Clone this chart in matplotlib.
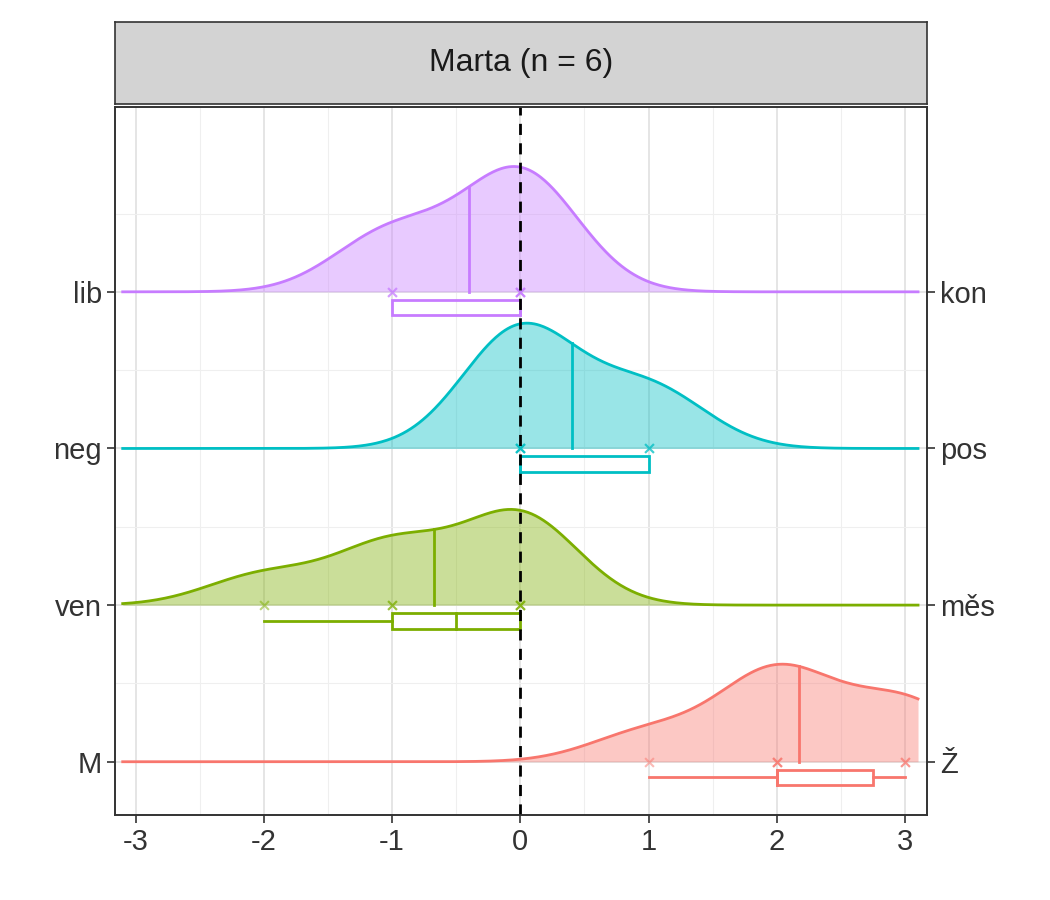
import matplotlib.pyplot as plt
import numpy as np

plt.rcParams['font.family'] = ['Liberation Sans', 'DejaVu Sans']

left_labels = ["M", "ven", "neg", "lib"]
right_labels = ["Ž", "měs", "pos", "kon"]
colors = ["#F8766D", "#7CAE00", "#00BFC4", "#C77CFF"]
values = [
    [1, 2, 2, 2, 3, 3],
    [-2, -1, -1, 0, 0, 0],
    [0, 0, 0, 0, 1, 1],
    [-1, -1, 0, 0, 0, 0],
]
# box stats: whisker low, q1, median, q3, whisker high
box_stats = [
    [1, 2, 2, 2.75, 3],
    [-2, -1, -0.5, 0, 0],
    [0, 0, 0, 1, 1],
    [-1, -1, 0, 0, 0],
]
means = [2.17, -0.67, 0.4, -0.4]

fig = plt.figure(figsize=(10.5, 9), dpi=100)
ax = fig.add_axes([115 / 1050, 85 / 900, 812 / 1050, 708 / 900])
xs = np.linspace(-3.1, 3.1, 600)
bw = 0.45

dens = []
for v in values:
    v = np.array(v, float)
    d = np.exp(-0.5 * ((xs[:, None] - v[None, :]) / bw) ** 2).sum(1)
    dens.append(d / (len(v) * bw * np.sqrt(2 * np.pi)))
scale = 0.8 / max(d.max() for d in dens)

for i, (d, c) in enumerate(zip(dens, colors)):
    y0 = i + 1
    h = y0 + d * scale
    ax.fill_between(xs, y0, h, color=c, alpha=0.4, lw=0, zorder=3)
    ax.plot(xs, h, color=c, lw=2, zorder=4)
    m = means[i]
    ax.plot([m, m], [y0, y0 + np.interp(m, xs, d) * scale], color=c, lw=2, zorder=4)
    ax.scatter(values[i], [y0] * len(values[i]), marker="x", color=c, alpha=0.5, s=40, zorder=5)
    wl, q1, med, q3, wh = box_stats[i]
    yc = y0 - 0.1
    ax.plot([wl, q1], [yc, yc], color=c, lw=2, zorder=4)
    ax.plot([q3, wh], [yc, yc], color=c, lw=2, zorder=4)
    ax.add_patch(plt.Rectangle((q1, y0 - 0.15), q3 - q1, 0.1, fill=False, ec=c, lw=2, zorder=4))
    ax.plot([med, med], [y0 - 0.15, y0 - 0.05], color=c, lw=2, zorder=4)

ax.axvline(0, color="black", ls=(0, (4, 3)), lw=2, zorder=6)
ax.set_xlim(-3.16, 3.17)
ax.set_ylim(0.66, 5.18)
ax.set_xticks(range(-3, 4))
ax.set_xticklabels([str(t) for t in range(-3, 4)])
ax.set_xticks(np.arange(-2.5, 3, 1), minor=True)
ax.set_yticks([1, 2, 3, 4])
ax.set_yticklabels(left_labels)
ax.set_yticks([1.5, 2.5, 3.5, 4.5], minor=True)
ax.grid(True, which="major", color="#e3e3e3", lw=1.3, zorder=0)
ax.grid(True, which="minor", color="#efefef", lw=0.8, zorder=0)
ax.tick_params(labelsize=21, colors="#333333", length=6, width=1.2)
ax.tick_params(which="minor", length=0)
ax2 = ax.twinx()
ax2.set_ylim(ax.get_ylim())
ax2.set_yticks([1, 2, 3, 4])
ax2.set_yticklabels(right_labels)
ax2.tick_params(labelsize=21, colors="#333333", length=6, width=1.2)
for a in (ax, ax2):
    for s in a.spines.values():
        s.set_color("#333333")
        s.set_linewidth(1.2)

sax = fig.add_axes([115 / 1050, 796 / 900, 812 / 1050, 82 / 900])
sax.set_facecolor("#d3d3d3")
sax.set_xticks([])
sax.set_yticks([])
for s in sax.spines.values():
    s.set_color("#333333")
    s.set_linewidth(1.2)
sax.text(0.5, 0.5, "Marta (n = 6)", ha="center", va="center", fontsize=23, color="#1a1a1a")

fig.savefig("out.png")
